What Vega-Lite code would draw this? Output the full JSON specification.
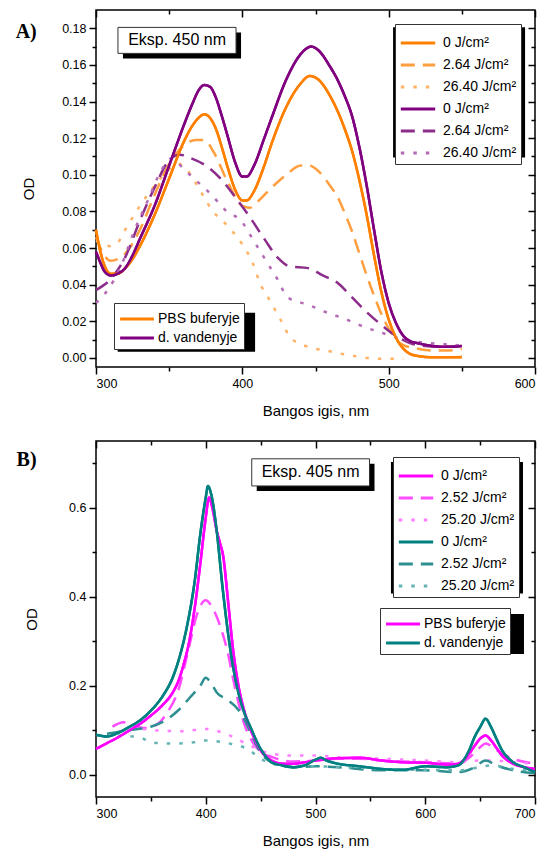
{
  "$schema": "https://vega.github.io/schema/vega-lite/v6.json",
  "padding": {"left": 14, "top": 8, "right": 5, "bottom": 5},
  "config": {
    "font": "Liberation Sans",
    "view": {"stroke": "black", "strokeWidth": 1.5},
    "axis": {"grid": false, "domain": false, "labelFont": "Liberation Sans", "labelFontSize": 12.5, "labelColor": "black", "titleFont": "Liberation Sans", "titleFontSize": 15, "titleFontWeight": "normal", "titleColor": "black", "tickColor": "black", "tickWidth": 1.5, "labelPadding": 3},
    "legend": {"labelFont": "Liberation Sans", "labelFontSize": 14, "labelColor": "black", "symbolStrokeWidth": 3, "strokeColor": "#333", "fillColor": "white", "padding": 4, "rowPadding": 0, "titlePadding": 0},
    "concat": {"spacing": 19}
  },
  "resolve": {"scale": {"color": "independent", "stroke": "independent", "strokeDash": "independent"}},
  "datasets": {
    "A": [
      {"s":"P0","x":300,"y":0.070},{"s":"P0","x":303,"y":0.058},{"s":"P0","x":306,"y":0.050},{"s":"P0","x":310,"y":0.046},{"s":"P0","x":315,"y":0.046},{"s":"P0","x":320,"y":0.049},{"s":"P0","x":325,"y":0.054},{"s":"P0","x":330,"y":0.061},{"s":"P0","x":340,"y":0.078},{"s":"P0","x":350,"y":0.098},{"s":"P0","x":360,"y":0.118},{"s":"P0","x":366,"y":0.127},{"s":"P0","x":370,"y":0.131},{"s":"P0","x":374,"y":0.133},{"s":"P0","x":378,"y":0.131},{"s":"P0","x":382,"y":0.125},{"s":"P0","x":386,"y":0.115},{"s":"P0","x":390,"y":0.104},{"s":"P0","x":395,"y":0.092},{"s":"P0","x":400,"y":0.086},{"s":"P0","x":403,"y":0.086},{"s":"P0","x":408,"y":0.091},{"s":"P0","x":415,"y":0.105},{"s":"P0","x":420,"y":0.117},{"s":"P0","x":430,"y":0.137},{"s":"P0","x":440,"y":0.150},{"s":"P0","x":446,"y":0.154},{"s":"P0","x":452,"y":0.152},{"s":"P0","x":460,"y":0.143},{"s":"P0","x":465,"y":0.135},{"s":"P0","x":470,"y":0.125},{"s":"P0","x":475,"y":0.113},{"s":"P0","x":480,"y":0.097},{"s":"P0","x":485,"y":0.078},{"s":"P0","x":490,"y":0.056},{"s":"P0","x":495,"y":0.036},{"s":"P0","x":500,"y":0.021},{"s":"P0","x":505,"y":0.011},{"s":"P0","x":510,"y":0.005},{"s":"P0","x":515,"y":0.002},{"s":"P0","x":520,"y":0.001},{"s":"P0","x":530,"y":0.0003},{"s":"P0","x":540,"y":0.0003},{"s":"P0","x":550,"y":0.0004},
      {"s":"P1","x":300,"y":0.066},{"s":"P1","x":305,"y":0.057},{"s":"P1","x":310,"y":0.053},{"s":"P1","x":315,"y":0.054},{"s":"P1","x":320,"y":0.057},{"s":"P1","x":330,"y":0.070},{"s":"P1","x":340,"y":0.089},{"s":"P1","x":350,"y":0.106},{"s":"P1","x":360,"y":0.116},{"s":"P1","x":368,"y":0.119},{"s":"P1","x":374,"y":0.119},{"s":"P1","x":380,"y":0.113},{"s":"P1","x":390,"y":0.096},{"s":"P1","x":400,"y":0.083},{"s":"P1","x":405,"y":0.082},{"s":"P1","x":410,"y":0.085},{"s":"P1","x":420,"y":0.093},{"s":"P1","x":430,"y":0.100},{"s":"P1","x":440,"y":0.105},{"s":"P1","x":446,"y":0.105},{"s":"P1","x":452,"y":0.102},{"s":"P1","x":460,"y":0.094},{"s":"P1","x":465,"y":0.088},{"s":"P1","x":470,"y":0.079},{"s":"P1","x":475,"y":0.069},{"s":"P1","x":480,"y":0.057},{"s":"P1","x":485,"y":0.045},{"s":"P1","x":490,"y":0.034},{"s":"P1","x":495,"y":0.024},{"s":"P1","x":500,"y":0.016},{"s":"P1","x":505,"y":0.010},{"s":"P1","x":510,"y":0.007},{"s":"P1","x":520,"y":0.005},{"s":"P1","x":530,"y":0.004},{"s":"P1","x":540,"y":0.004},{"s":"P1","x":550,"y":0.005},
      {"s":"P2","x":300,"y":0.064},{"s":"P2","x":305,"y":0.062},{"s":"P2","x":310,"y":0.061},{"s":"P2","x":315,"y":0.063},{"s":"P2","x":320,"y":0.070},{"s":"P2","x":330,"y":0.083},{"s":"P2","x":340,"y":0.094},{"s":"P2","x":350,"y":0.103},{"s":"P2","x":356,"y":0.106},{"s":"P2","x":362,"y":0.103},{"s":"P2","x":370,"y":0.093},{"s":"P2","x":379,"y":0.081},{"s":"P2","x":390,"y":0.072},{"s":"P2","x":400,"y":0.062},{"s":"P2","x":407,"y":0.052},{"s":"P2","x":412,"y":0.041},{"s":"P2","x":419,"y":0.031},{"s":"P2","x":426,"y":0.021},{"s":"P2","x":433,"y":0.011},{"s":"P2","x":445,"y":0.006},{"s":"P2","x":457,"y":0.004},{"s":"P2","x":474,"y":0.0013},{"s":"P2","x":495,"y":-0.0005},{"s":"P2","x":510,"y":-0.0005},
      {"s":"W0","x":300,"y":0.058},{"s":"W0","x":303,"y":0.052},{"s":"W0","x":306,"y":0.047},{"s":"W0","x":310,"y":0.045},{"s":"W0","x":315,"y":0.046},{"s":"W0","x":320,"y":0.049},{"s":"W0","x":325,"y":0.056},{"s":"W0","x":330,"y":0.065},{"s":"W0","x":340,"y":0.083},{"s":"W0","x":350,"y":0.105},{"s":"W0","x":360,"y":0.127},{"s":"W0","x":366,"y":0.139},{"s":"W0","x":370,"y":0.146},{"s":"W0","x":374,"y":0.149},{"s":"W0","x":378,"y":0.148},{"s":"W0","x":382,"y":0.142},{"s":"W0","x":386,"y":0.132},{"s":"W0","x":390,"y":0.121},{"s":"W0","x":395,"y":0.107},{"s":"W0","x":400,"y":0.099},{"s":"W0","x":403,"y":0.099},{"s":"W0","x":408,"y":0.105},{"s":"W0","x":415,"y":0.120},{"s":"W0","x":420,"y":0.131},{"s":"W0","x":430,"y":0.152},{"s":"W0","x":440,"y":0.166},{"s":"W0","x":447,"y":0.170},{"s":"W0","x":452,"y":0.168},{"s":"W0","x":460,"y":0.159},{"s":"W0","x":465,"y":0.152},{"s":"W0","x":470,"y":0.143},{"s":"W0","x":475,"y":0.132},{"s":"W0","x":480,"y":0.115},{"s":"W0","x":485,"y":0.094},{"s":"W0","x":490,"y":0.070},{"s":"W0","x":495,"y":0.047},{"s":"W0","x":500,"y":0.030},{"s":"W0","x":505,"y":0.019},{"s":"W0","x":510,"y":0.012},{"s":"W0","x":515,"y":0.009},{"s":"W0","x":520,"y":0.008},{"s":"W0","x":530,"y":0.0065},{"s":"W0","x":540,"y":0.006},{"s":"W0","x":550,"y":0.0065},
      {"s":"W1","x":300,"y":0.037},{"s":"W1","x":310,"y":0.043},{"s":"W1","x":320,"y":0.055},{"s":"W1","x":330,"y":0.075},{"s":"W1","x":340,"y":0.093},{"s":"W1","x":350,"y":0.108},{"s":"W1","x":357,"y":0.111},{"s":"W1","x":365,"y":0.109},{"s":"W1","x":375,"y":0.105},{"s":"W1","x":385,"y":0.098},{"s":"W1","x":395,"y":0.088},{"s":"W1","x":405,"y":0.077},{"s":"W1","x":415,"y":0.065},{"s":"W1","x":425,"y":0.054},{"s":"W1","x":432,"y":0.050},{"s":"W1","x":445,"y":0.049},{"s":"W1","x":455,"y":0.045},{"s":"W1","x":465,"y":0.041},{"s":"W1","x":475,"y":0.033},{"s":"W1","x":485,"y":0.025},{"s":"W1","x":495,"y":0.018},{"s":"W1","x":505,"y":0.012},{"s":"W1","x":515,"y":0.008},{"s":"W1","x":525,"y":0.0065},{"s":"W1","x":540,"y":0.006},{"s":"W1","x":550,"y":0.007},
      {"s":"W2","x":300,"y":0.030},{"s":"W2","x":307,"y":0.036},{"s":"W2","x":317,"y":0.050},{"s":"W2","x":326,"y":0.069},{"s":"W2","x":336,"y":0.087},{"s":"W2","x":345,"y":0.103},{"s":"W2","x":352,"y":0.109},{"s":"W2","x":360,"y":0.103},{"s":"W2","x":371,"y":0.095},{"s":"W2","x":379,"y":0.089},{"s":"W2","x":388,"y":0.081},{"s":"W2","x":400,"y":0.074},{"s":"W2","x":407,"y":0.065},{"s":"W2","x":417,"y":0.052},{"s":"W2","x":424,"y":0.043},{"s":"W2","x":431,"y":0.033},{"s":"W2","x":445,"y":0.029},{"s":"W2","x":457,"y":0.025},{"s":"W2","x":471,"y":0.021},{"s":"W2","x":483,"y":0.017},{"s":"W2","x":498,"y":0.013},{"s":"W2","x":510,"y":0.010},{"s":"W2","x":521,"y":0.0086},{"s":"W2","x":536,"y":0.0076},{"s":"W2","x":550,"y":0.0067}
    ],
    "B": [
      {"s":"P0","x":300,"y":0.058},{"s":"P0","x":310,"y":0.071},{"s":"P0","x":320,"y":0.084},{"s":"P0","x":330,"y":0.099},{"s":"P0","x":340,"y":0.114},{"s":"P0","x":350,"y":0.133},{"s":"P0","x":360,"y":0.155},{"s":"P0","x":370,"y":0.185},{"s":"P0","x":375,"y":0.210},{"s":"P0","x":380,"y":0.249},{"s":"P0","x":385,"y":0.300},{"s":"P0","x":390,"y":0.376},{"s":"P0","x":395,"y":0.473},{"s":"P0","x":400,"y":0.578},{"s":"P0","x":403,"y":0.623},{"s":"P0","x":406,"y":0.600},{"s":"P0","x":410,"y":0.548},{"s":"P0","x":413,"y":0.520},{"s":"P0","x":416,"y":0.490},{"s":"P0","x":420,"y":0.398},{"s":"P0","x":425,"y":0.279},{"s":"P0","x":430,"y":0.197},{"s":"P0","x":435,"y":0.144},{"s":"P0","x":440,"y":0.107},{"s":"P0","x":445,"y":0.078},{"s":"P0","x":450,"y":0.055},{"s":"P0","x":460,"y":0.032},{"s":"P0","x":470,"y":0.025},{"s":"P0","x":480,"y":0.025},{"s":"P0","x":490,"y":0.028},{"s":"P0","x":500,"y":0.032},{"s":"P0","x":520,"y":0.037},{"s":"P0","x":540,"y":0.038},{"s":"P0","x":560,"y":0.032},{"s":"P0","x":580,"y":0.028},{"s":"P0","x":600,"y":0.027},{"s":"P0","x":620,"y":0.023},{"s":"P0","x":630,"y":0.025},{"s":"P0","x":640,"y":0.047},{"s":"P0","x":645,"y":0.065},{"s":"P0","x":650,"y":0.081},{"s":"P0","x":655,"y":0.088},{"s":"P0","x":660,"y":0.077},{"s":"P0","x":665,"y":0.060},{"s":"P0","x":670,"y":0.043},{"s":"P0","x":680,"y":0.025},{"s":"P0","x":690,"y":0.017},{"s":"P0","x":700,"y":0.013},
      {"s":"P1","x":315,"y":0.108},{"s":"P1","x":325,"y":0.118},{"s":"P1","x":335,"y":0.110},{"s":"P1","x":345,"y":0.105},{"s":"P1","x":355,"y":0.112},{"s":"P1","x":365,"y":0.140},{"s":"P1","x":375,"y":0.190},{"s":"P1","x":385,"y":0.290},{"s":"P1","x":392,"y":0.360},{"s":"P1","x":400,"y":0.392},{"s":"P1","x":405,"y":0.380},{"s":"P1","x":410,"y":0.355},{"s":"P1","x":415,"y":0.320},{"s":"P1","x":420,"y":0.275},{"s":"P1","x":425,"y":0.215},{"s":"P1","x":430,"y":0.160},{"s":"P1","x":435,"y":0.115},{"s":"P1","x":440,"y":0.085},{"s":"P1","x":450,"y":0.052},{"s":"P1","x":460,"y":0.040},{"s":"P1","x":480,"y":0.030},{"s":"P1","x":500,"y":0.032},{"s":"P1","x":520,"y":0.036},{"s":"P1","x":540,"y":0.036},{"s":"P1","x":560,"y":0.032},{"s":"P1","x":600,"y":0.028},{"s":"P1","x":630,"y":0.025},{"s":"P1","x":640,"y":0.038},{"s":"P1","x":650,"y":0.062},{"s":"P1","x":655,"y":0.070},{"s":"P1","x":665,"y":0.055},{"s":"P1","x":680,"y":0.036},{"s":"P1","x":700,"y":0.025},
      {"s":"P2","x":320,"y":0.096},{"s":"P2","x":340,"y":0.103},{"s":"P2","x":360,"y":0.099},{"s":"P2","x":380,"y":0.098},{"s":"P2","x":400,"y":0.103},{"s":"P2","x":420,"y":0.090},{"s":"P2","x":440,"y":0.066},{"s":"P2","x":460,"y":0.047},{"s":"P2","x":480,"y":0.043},{"s":"P2","x":500,"y":0.043},{"s":"P2","x":520,"y":0.040},{"s":"P2","x":560,"y":0.036},{"s":"P2","x":600,"y":0.032},{"s":"P2","x":630,"y":0.028},{"s":"P2","x":650,"y":0.032},{"s":"P2","x":665,"y":0.032},{"s":"P2","x":680,"y":0.028},{"s":"P2","x":700,"y":0.025},
      {"s":"W0","x":300,"y":0.090},{"s":"W0","x":310,"y":0.086},{"s":"W0","x":320,"y":0.094},{"s":"W0","x":330,"y":0.107},{"s":"W0","x":340,"y":0.122},{"s":"W0","x":350,"y":0.144},{"s":"W0","x":360,"y":0.174},{"s":"W0","x":370,"y":0.219},{"s":"W0","x":375,"y":0.255},{"s":"W0","x":380,"y":0.301},{"s":"W0","x":385,"y":0.360},{"s":"W0","x":390,"y":0.436},{"s":"W0","x":395,"y":0.540},{"s":"W0","x":400,"y":0.623},{"s":"W0","x":402,"y":0.649},{"s":"W0","x":405,"y":0.630},{"s":"W0","x":410,"y":0.548},{"s":"W0","x":415,"y":0.428},{"s":"W0","x":420,"y":0.324},{"s":"W0","x":425,"y":0.241},{"s":"W0","x":430,"y":0.182},{"s":"W0","x":435,"y":0.140},{"s":"W0","x":440,"y":0.111},{"s":"W0","x":450,"y":0.058},{"s":"W0","x":460,"y":0.028},{"s":"W0","x":470,"y":0.021},{"s":"W0","x":480,"y":0.017},{"s":"W0","x":490,"y":0.021},{"s":"W0","x":500,"y":0.034},{"s":"W0","x":505,"y":0.038},{"s":"W0","x":510,"y":0.032},{"s":"W0","x":520,"y":0.025},{"s":"W0","x":540,"y":0.019},{"s":"W0","x":560,"y":0.013},{"s":"W0","x":580,"y":0.011},{"s":"W0","x":600,"y":0.019},{"s":"W0","x":620,"y":0.017},{"s":"W0","x":630,"y":0.021},{"s":"W0","x":640,"y":0.055},{"s":"W0","x":645,"y":0.085},{"s":"W0","x":650,"y":0.107},{"s":"W0","x":655,"y":0.126},{"s":"W0","x":660,"y":0.107},{"s":"W0","x":665,"y":0.080},{"s":"W0","x":670,"y":0.055},{"s":"W0","x":680,"y":0.028},{"s":"W0","x":690,"y":0.017},{"s":"W0","x":700,"y":0.006},
      {"s":"W1","x":310,"y":0.092},{"s":"W1","x":330,"y":0.100},{"s":"W1","x":350,"y":0.108},{"s":"W1","x":365,"y":0.125},{"s":"W1","x":375,"y":0.145},{"s":"W1","x":385,"y":0.172},{"s":"W1","x":395,"y":0.200},{"s":"W1","x":400,"y":0.218},{"s":"W1","x":405,"y":0.205},{"s":"W1","x":410,"y":0.185},{"s":"W1","x":420,"y":0.168},{"s":"W1","x":430,"y":0.145},{"s":"W1","x":435,"y":0.125},{"s":"W1","x":440,"y":0.099},{"s":"W1","x":450,"y":0.050},{"s":"W1","x":460,"y":0.028},{"s":"W1","x":480,"y":0.017},{"s":"W1","x":500,"y":0.019},{"s":"W1","x":520,"y":0.017},{"s":"W1","x":560,"y":0.010},{"s":"W1","x":600,"y":0.010},{"s":"W1","x":630,"y":0.006},{"s":"W1","x":645,"y":0.017},{"s":"W1","x":655,"y":0.032},{"s":"W1","x":665,"y":0.021},{"s":"W1","x":680,"y":0.010},{"s":"W1","x":700,"y":0.004},
      {"s":"W2","x":320,"y":0.088},{"s":"W2","x":340,"y":0.084},{"s":"W2","x":350,"y":0.073},{"s":"W2","x":370,"y":0.070},{"s":"W2","x":390,"y":0.073},{"s":"W2","x":400,"y":0.077},{"s":"W2","x":420,"y":0.071},{"s":"W2","x":440,"y":0.055},{"s":"W2","x":450,"y":0.036},{"s":"W2","x":470,"y":0.021},{"s":"W2","x":500,"y":0.019},{"s":"W2","x":530,"y":0.017},{"s":"W2","x":560,"y":0.013},{"s":"W2","x":600,"y":0.011},{"s":"W2","x":630,"y":0.010},{"s":"W2","x":650,"y":0.017},{"s":"W2","x":660,"y":0.021},{"s":"W2","x":680,"y":0.013},{"s":"W2","x":700,"y":0.010}
    ],
    "boxesA": [
      {"kind":"note","x1":315,"x2":395.7,"y1":0.1805,"y2":0.1663,"xm":355.4,"ym":0.1734,"label":"Eksp. 450 nm"},
      {"kind":"legend","x1":499.6,"x2":589.8,"y1":0.1833,"y2":0.1121},
      {"kind":"legend","x1":311.4,"x2":405.3,"y1":0.0274,"y2":0.0060}
    ],
    "boxesB": [
      {"kind":"note","x1":441.9,"x2":549.2,"y1":0.710,"y2":0.649,"xm":495.5,"ym":0.6795,"label":"Eksp. 405 nm"},
      {"kind":"legend","x1":564.2,"x2":684.5,"y1":0.7143,"y2":0.4184},
      {"kind":"legend","x1":558.8,"x2":685.4,"y1":0.3722,"y2":0.2825}
    ]
  },
  "vconcat": [
    {
      "width": 439, "height": 357,
      "title": {"text": "A)", "anchor": "start", "frame": "bounds", "dx": -6, "dy": 37, "font": "Liberation Serif", "fontSize": 20, "fontWeight": "bold", "color": "black"},
      "resolve": {"axis": {"x": "independent", "y": "independent"}},
      "layer": [
        {
          "data": {"name": "A"},
          "mark": {"type": "line", "strokeWidth": 2.5, "interpolate": "monotone", "strokeCap": "butt"},
          "encoding": {
            "x": {"field": "x", "type": "quantitative", "scale": {"domain": [300, 600], "nice": false, "zero": false},
                  "axis": {"orient": "bottom", "title": "Bangos igis, nm", "values": [300,350,400,450,500,550,600], "format": "d", "labelExpr": "datum.value % 100 == 0 ? datum.label : ''", "tickSize": {"condition": {"test": "datum.value % 100 == 0", "value": 7}, "value": 4}, "titlePadding": 14}},
            "y": {"field": "y", "type": "quantitative", "scale": {"domain": [-0.005, 0.19], "nice": false, "zero": false},
                  "axis": {"orient": "left", "title": "OD", "values": [0,0.01,0.02,0.03,0.04,0.05,0.06,0.07,0.08,0.09,0.1,0.11,0.12,0.13,0.14,0.15,0.16,0.17,0.18], "labelExpr": "round(datum.value*100) % 2 == 0 ? format(datum.value, '.2f') : ''", "tickSize": {"condition": {"test": "round(datum.value*100) % 2 == 0", "value": 7}, "value": 4}, "titlePadding": 25}},
            "color": {"field": "s", "type": "nominal", "scale": {"domain": ["P0","P1","P2","W0","W1","W2"], "range": ["#FF8000","#FF9F40","#FFB366","#800080","#8C2D8C","#B36BB3"]},
                      "legend": {"orient": "top-right", "offset": 14, "title": null, "symbolSize": 700, "symbolType": "M-1.3,0H1.3", "symbolOffset": 4, "labelOffset": 10, "labelExpr": "indexof(['P0','W0'], datum.value) >= 0 ? '0 J/cm²' : indexof(['P1','W1'], datum.value) >= 0 ? '2.64 J/cm²' : '26.40 J/cm²'"}},
            "strokeDash": {"field": "s", "type": "nominal", "scale": {"domain": ["P0","P1","P2","W0","W1","W2"], "range": [[1,0],[14,8],[3.5,9],[1,0],[14,8],[3.5,9]]},
                      "legend": {"orient": "top-right", "offset": 14, "title": null, "symbolSize": 700, "symbolType": "M-1.3,0H1.3", "symbolOffset": 4, "labelOffset": 10, "labelExpr": "indexof(['P0','W0'], datum.value) >= 0 ? '0 J/cm²' : indexof(['P1','W1'], datum.value) >= 0 ? '2.64 J/cm²' : '26.40 J/cm²'"}}
          }
        },
        {
          "data": {"name": "A"},
          "transform": [{"filter": "datum.s == 'P0' || datum.s == 'W0'"}],
          "mark": {"type": "line", "strokeWidth": 2.5, "interpolate": "monotone"},
          "encoding": {
            "x": {"field": "x", "type": "quantitative", "axis": null},
            "y": {"field": "y", "type": "quantitative", "axis": null},
            "stroke": {"field": "s", "type": "nominal", "scale": {"domain": ["P0","W0"], "range": ["#FF8000","#800080"]},
                       "legend": {"orient": "bottom-left", "offset": 18, "title": null, "symbolSize": 420, "symbolType": "M-1.65,0H1.65", "symbolOffset": 7, "labelOffset": 9, "labelExpr": "datum.value == 'P0' ? 'PBS buferyje' : 'd. vandenyje'"}}
          }
        },
        {
          "data": {"name": "boxesA"},
          "mark": {"type": "rect", "color": "black", "xOffset": 5, "x2Offset": 5, "yOffset": 5, "y2Offset": 5},
          "encoding": {
            "x": {"field": "x1", "type": "quantitative", "axis": {"orient": "top", "labels": false, "title": null, "values": [300,350,400,450,500,550,600], "tickSize": {"condition": {"test": "datum.value % 100 == 0", "value": -7}, "value": -4}}},
            "x2": {"field": "x2"},
            "y": {"field": "y1", "type": "quantitative", "axis": {"orient": "right", "labels": false, "title": null, "values": [0,0.01,0.02,0.03,0.04,0.05,0.06,0.07,0.08,0.09,0.1,0.11,0.12,0.13,0.14,0.15,0.16,0.17,0.18], "tickSize": {"condition": {"test": "round(datum.value*100) % 2 == 0", "value": -7}, "value": -4}}},
            "y2": {"field": "y2"}
          }
        },
        {
          "data": {"name": "boxesA"},
          "transform": [{"filter": "datum.kind == 'note'"}],
          "mark": {"type": "rect", "fill": "white", "stroke": "#333", "strokeWidth": 1},
          "encoding": {
            "x": {"field": "x1", "type": "quantitative", "axis": null},
            "x2": {"field": "x2"},
            "y": {"field": "y1", "type": "quantitative", "axis": null},
            "y2": {"field": "y2"}
          }
        },
        {
          "data": {"name": "boxesA"},
          "transform": [{"filter": "datum.kind == 'note'"}],
          "mark": {"type": "text", "font": "Liberation Sans", "fontSize": 16, "color": "black", "align": "center", "baseline": "middle"},
          "encoding": {
            "x": {"field": "xm", "type": "quantitative", "axis": null},
            "y": {"field": "ym", "type": "quantitative", "axis": null},
            "text": {"field": "label"}
          }
        }
      ]
    },
    {
      "width": 439, "height": 356,
      "title": {"text": "B)", "anchor": "start", "frame": "bounds", "dx": -8, "dy": 34, "font": "Liberation Serif", "fontSize": 20, "fontWeight": "bold", "color": "black"},
      "resolve": {"axis": {"x": "independent", "y": "independent"}},
      "layer": [
        {
          "data": {"name": "B"},
          "mark": {"type": "line", "strokeWidth": 2.5, "interpolate": "monotone", "strokeCap": "butt"},
          "encoding": {
            "x": {"field": "x", "type": "quantitative", "scale": {"domain": [300, 700], "nice": false, "zero": false},
                  "axis": {"orient": "bottom", "title": "Bangos igis, nm", "values": [300,350,400,450,500,550,600,650,700], "format": "d", "labelExpr": "datum.value % 100 == 0 ? datum.label : ''", "tickSize": {"condition": {"test": "datum.value % 100 == 0", "value": 7}, "value": 4}, "titlePadding": 14}},
            "y": {"field": "y", "type": "quantitative", "scale": {"domain": [-0.05, 0.75], "nice": false, "zero": false},
                  "axis": {"orient": "left", "title": "OD", "values": [0,0.1,0.2,0.3,0.4,0.5,0.6,0.7], "labelExpr": "round(datum.value*10) % 2 == 0 ? format(datum.value, '.1f') : ''", "tickSize": {"condition": {"test": "round(datum.value*10) % 2 == 0", "value": 7}, "value": 4}, "titlePadding": 29}},
            "color": {"field": "s", "type": "nominal", "scale": {"domain": ["P0","P1","P2","W0","W1","W2"], "range": ["#FF00FF","#FF4DFF","#FF80FF","#008080","#2D8F8F","#66B3B3"]},
                      "legend": {"orient": "top-right", "offset": 16, "title": null, "symbolSize": 700, "symbolType": "M-1.3,0H1.3", "symbolOffset": 4, "labelOffset": 10, "labelExpr": "indexof(['P0','W0'], datum.value) >= 0 ? '0 J/cm²' : indexof(['P1','W1'], datum.value) >= 0 ? '2.52 J/cm²' : '25.20 J/cm²'"}},
            "strokeDash": {"field": "s", "type": "nominal", "scale": {"domain": ["P0","P1","P2","W0","W1","W2"], "range": [[1,0],[14,8],[3.5,9],[1,0],[14,8],[3.5,9]]},
                      "legend": {"orient": "top-right", "offset": 16, "title": null, "symbolSize": 700, "symbolType": "M-1.3,0H1.3", "symbolOffset": 4, "labelOffset": 10, "labelExpr": "indexof(['P0','W0'], datum.value) >= 0 ? '0 J/cm²' : indexof(['P1','W1'], datum.value) >= 0 ? '2.52 J/cm²' : '25.20 J/cm²'"}}
          }
        },
        {
          "data": {"name": "B"},
          "transform": [{"filter": "datum.s == 'P0' || datum.s == 'W0'"}],
          "mark": {"type": "line", "strokeWidth": 2.5, "interpolate": "monotone"},
          "encoding": {
            "x": {"field": "x", "type": "quantitative", "axis": null},
            "y": {"field": "y", "type": "quantitative", "axis": null},
            "stroke": {"field": "s", "type": "nominal", "scale": {"domain": ["P0","W0"], "range": ["#FF00FF","#008080"]},
                       "legend": {"orient": "none", "legendX": 284, "legendY": 167, "title": null, "symbolSize": 420, "symbolType": "M-1.65,0H1.65", "symbolOffset": 7, "labelOffset": 9, "labelExpr": "datum.value == 'P0' ? 'PBS buferyje' : 'd. vandenyje'"}}
          }
        },
        {
          "data": {"name": "boxesB"},
          "mark": {"type": "rect", "color": "black", "xOffset": 5, "x2Offset": 5, "yOffset": 5, "y2Offset": 5},
          "encoding": {
            "x": {"field": "x1", "type": "quantitative", "axis": {"orient": "top", "labels": false, "title": null, "values": [300,350,400,450,500,550,600,650,700], "tickSize": {"condition": {"test": "datum.value % 100 == 0", "value": -7}, "value": -4}}},
            "x2": {"field": "x2"},
            "y": {"field": "y1", "type": "quantitative", "axis": {"orient": "right", "labels": false, "title": null, "values": [0,0.1,0.2,0.3,0.4,0.5,0.6,0.7], "tickSize": {"condition": {"test": "round(datum.value*10) % 2 == 0", "value": -7}, "value": -4}}},
            "y2": {"field": "y2"}
          }
        },
        {
          "data": {"name": "boxesB"},
          "transform": [{"filter": "datum.kind == 'note'"}],
          "mark": {"type": "rect", "fill": "white", "stroke": "#333", "strokeWidth": 1},
          "encoding": {
            "x": {"field": "x1", "type": "quantitative", "axis": null},
            "x2": {"field": "x2"},
            "y": {"field": "y1", "type": "quantitative", "axis": null},
            "y2": {"field": "y2"}
          }
        },
        {
          "data": {"name": "boxesB"},
          "transform": [{"filter": "datum.kind == 'note'"}],
          "mark": {"type": "text", "font": "Liberation Sans", "fontSize": 16, "color": "black", "align": "center", "baseline": "middle"},
          "encoding": {
            "x": {"field": "xm", "type": "quantitative", "axis": null},
            "y": {"field": "ym", "type": "quantitative", "axis": null},
            "text": {"field": "label"}
          }
        }
      ]
    }
  ]
}
